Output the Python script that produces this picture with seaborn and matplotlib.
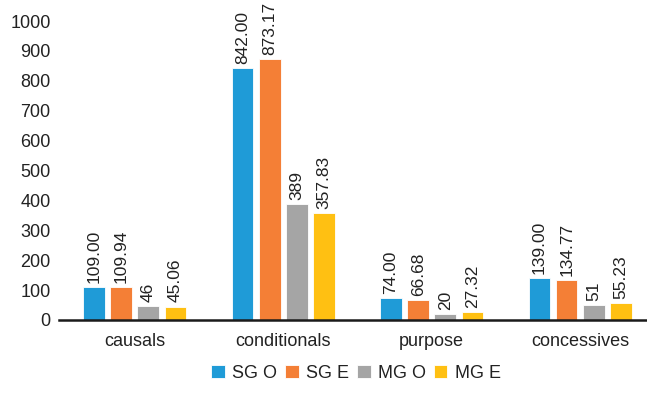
import matplotlib
matplotlib.use("Agg")
import matplotlib.pyplot as plt
import seaborn as sns
import pandas as pd

categories = ["causals", "conditionals", "purpose", "concessives"]
series = ["SG O", "SG E", "MG O", "MG E"]
sg_o = [109.00, 842.00, 74.00, 139.00]
sg_e = [109.94, 873.17, 66.68, 134.77]
mg_o = [46, 389, 20, 51]
mg_e = [45.06, 357.83, 27.32, 55.23]
sg_o_labels = ["109.00", "842.00", "74.00", "139.00"]
sg_e_labels = ["109.94", "873.17", "66.68", "134.77"]
mg_o_labels = ["46", "389", "20", "51"]
mg_e_labels = ["45.06", "357.83", "27.32", "55.23"]
colors = ["#1F9BD7", "#F47F36", "#A5A5A5", "#FFC012"]

values = [sg_o, sg_e, mg_o, mg_e]
labels = [sg_o_labels, sg_e_labels, mg_o_labels, mg_e_labels]
rows = []
for s, vals in zip(series, values):
    for c, v in zip(categories, vals):
        rows.append({"category": c, "series": s, "value": v})
df = pd.DataFrame(rows)

sns.set_style("white")
plt.rcParams["font.family"] = ["Liberation Sans", "DejaVu Sans"]

fig = plt.figure(figsize=(6.47, 3.95), dpi=100)
ax = fig.add_axes([59 / 647, 1 - 320 / 395, 1 - 59 / 647, (320 - 21) / 395])

sns.barplot(data=df, x="category", y="value", hue="series", order=categories,
            hue_order=series, palette=colors, saturation=1, width=0.73, gap=0.2,
            edgecolor="white", linewidth=0.6, ax=ax, legend=True)

for container, labs in zip(ax.containers, labels):
    ax.bar_label(container, labels=labs, rotation=90, padding=3,
                 fontsize=12.5, color="#222222", clip_on=False)

ax.set_ylim(0, 1000)
ax.set_xlim(-0.51, 3.45)
ax.set_yticks(range(0, 1001, 100))
ax.set_xlabel("")
ax.set_ylabel("")
ax.tick_params(axis="y", labelsize=13, labelcolor="#222222", length=0, pad=6)
ax.tick_params(axis="x", labelsize=13, labelcolor="#222222", length=0, pad=9)
for side in ["left", "right", "top"]:
    ax.spines[side].set_visible(False)
ax.spines["bottom"].set_color("#1a1a1a")
ax.spines["bottom"].set_linewidth(1.8)

handles, leg_labels = ax.get_legend_handles_labels()
ax.get_legend().remove()
fig.legend(handles, leg_labels, loc="center", bbox_to_anchor=(356 / 647, 1 - 373 / 395),
           ncol=4, frameon=False, fontsize=13, handlelength=0.75, handleheight=0.75,
           handletextpad=0.4, columnspacing=0.45, labelcolor="#222222")

fig.savefig("out.png", dpi=100)
